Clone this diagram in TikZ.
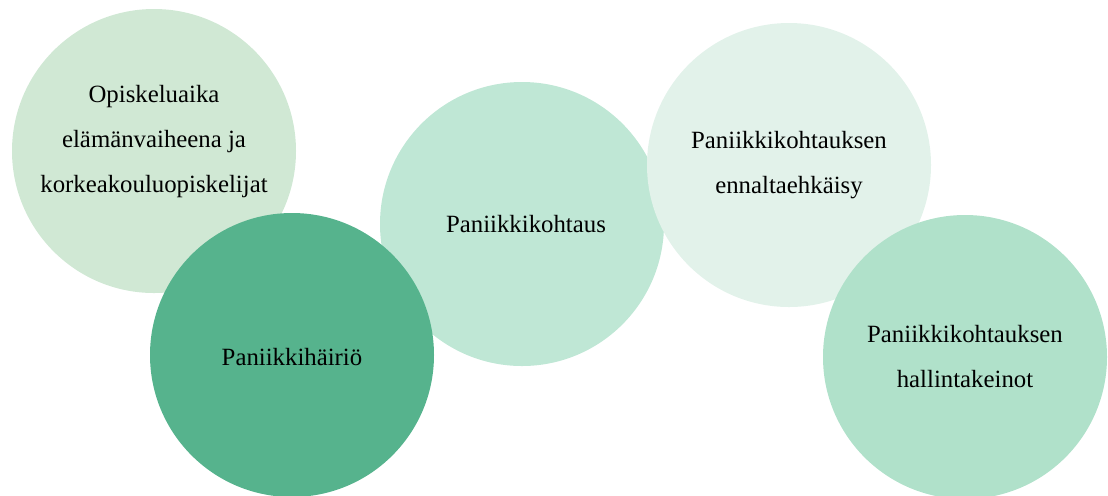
\documentclass[tikz,border=0pt]{standalone}
\usepackage{fontspec}
\setmainfont{Liberation Serif}
\definecolor{ympA}{HTML}{D0E8D4}
\definecolor{ympB}{HTML}{56B38D}
\definecolor{ympC}{HTML}{BFE7D5}
\definecolor{ympD}{HTML}{E2F2EA}
\definecolor{ympE}{HTML}{B0E1CA}
\begin{document}
\begin{tikzpicture}[x=0.5pt,y=-0.5pt,
    ympyra/.style={circle,inner sep=0pt,minimum size=142pt},
    teksti/.style={inner sep=0pt,align=center,font=\fontsize{12.4}{22.5}\selectfont}]
  \useasboundingbox (0,0) rectangle (1108,495);
  \clip (0,0) rectangle (1108,495);
  % circles, back to front
  \node[ympyra,fill=ympA] (opiskelu) at (154,151) {};
  \node[ympyra,fill=ympC] (kohtaus) at (522,224) {};
  \node[ympyra,fill=ympB] (hairio) at (292,355) {};
  \node[ympyra,fill=ympD] (ennalta) at (789,165) {};
  \node[ympyra,fill=ympE] (hallinta) at (965,357) {};
  % texts
  \node[teksti] (opiskelu-t) at ([yshift=4.5pt]opiskelu.center) {Opiskeluaika\\elämänvaiheena ja\\korkeakouluopiskelijat};
  \node[teksti] (kohtaus-t) at ([xshift=2pt]kohtaus.center) {Paniikkikohtaus};
  \node[teksti] (hairio-t) at ([yshift=-1pt]hairio.center) {Paniikkihäiriö};
  \node[teksti] (ennalta-t) at (ennalta.center) {Paniikkikohtauksen\\ennaltaehkäisy};
  \node[teksti] (hallinta-t) at (hallinta.center) {Paniikkikohtauksen\\hallintakeinot};
\end{tikzpicture}
\end{document}
